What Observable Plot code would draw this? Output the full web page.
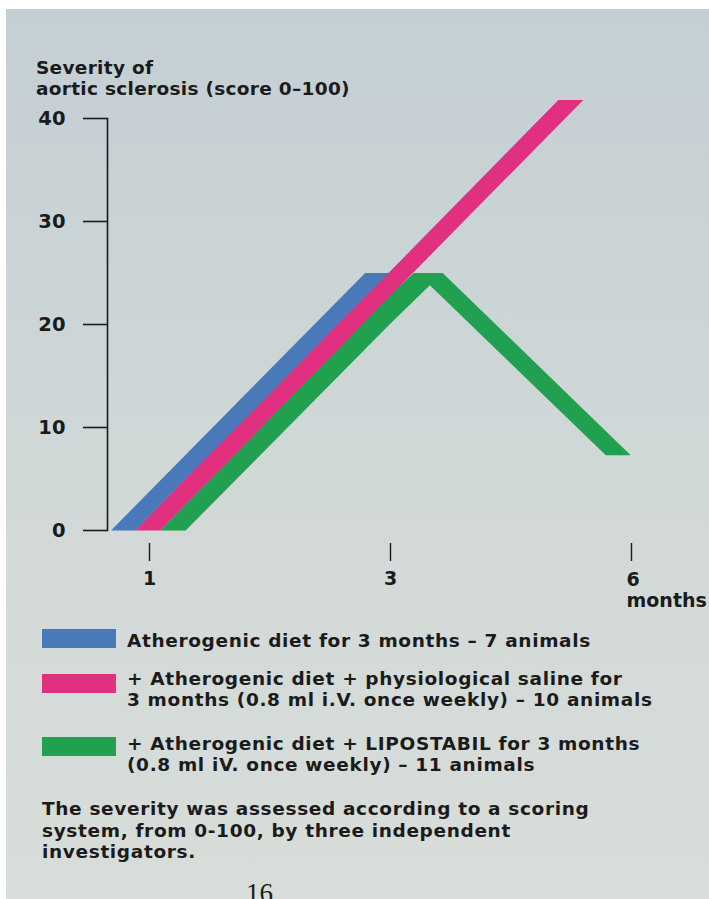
<!DOCTYPE html>
<html><head><meta charset="utf-8">
<script src="https://cdn.jsdelivr.net/npm/d3@7"></script>
<script src="https://cdn.jsdelivr.net/npm/@observablehq/plot@0.6"></script>
<style>
body{margin:0;background:#fff;width:709px;height:899px;overflow:hidden;position:relative;font-family:"DejaVu Sans",sans-serif;color:#1b1b1b;}
#panel{position:absolute;left:6px;top:9px;right:0;bottom:0;background:linear-gradient(#c4cfd4,#d2d9d8 60%,#d8ddd9);}
.t{position:absolute;font-weight:700;white-space:pre;font-size:18.5px;line-height:21px;letter-spacing:0.65px;}
#title{left:36px;top:57px;letter-spacing:0.3px;}
#chart{position:absolute;left:0;top:100px;}
.sw{position:absolute;left:42px;width:74px;height:19px;}
.lg{left:127px;line-height:20.5px;}
#caption{left:42px;top:798px;line-height:21.5px;}
#page{position:absolute;left:246px;top:878px;font-family:"Liberation Serif",serif;font-size:27px;}
</style></head>
<body>
<div id="panel"></div>
<div class="t" id="title">Severity of
aortic sclerosis (score 0–100)</div>
<div id="chart"></div>
<div id="legend"></div>
<div class="t" id="caption">The severity was assessed according to a scoring
system, from 0-100, by three independent
investigators.</div>
<div id="page">16</div>
<script>
// ---- data (months, score 0–100) ----
const seriesLabels = [
  "Atherogenic diet for 3 months – 7 animals",
  "+ Atherogenic diet + physiological saline for\n3 months (0.8 ml i.V. once weekly) – 10 animals",
  "+ Atherogenic diet + LIPOSTABIL for 3 months\n(0.8 ml iV. once weekly) – 11 animals"
];
const seriesColors = ["#4a79b9", "#e0307f", "#21a04f"];
const xTicks = [1, 3, 6];          // months (axis is drawn with equal spacing between these)
const yTicks = [0, 10, 20, 30, 40];

// band outlines: upper/left edge and lower/right edge, [months], [score]
const blueUpperMonths = [0.68, 2.79];
const blueUpperScores = [0, 25];
const blueLowerMonths = [0.88, 3.0];
const blueLowerScores = [0, 25];

const pinkUpperMonths = [0.88, 3.0, 5.09];
const pinkUpperScores = [0, 25.2, 41.8];
const pinkLowerMonths = [1.09, 3.0, 5.40];
const pinkLowerScores = [0, 22.8, 41.8];

const greenUpperMonths = [1.09, 3.0, 3.29, 3.65, 5.99];
const greenUpperScores = [0, 22.9, 25, 25, 7.3];
const greenLowerMonths = [1.30, 3.0, 3.49, 5.68];
const greenLowerScores = [0, 20.1, 23.8, 7.3];

// the month axis is schematic: 1, 3 and 6 months are equally spaced
const monthPos = d3.scaleLinear().domain(xTicks).range(xTicks.map((_, i) => i));

function polygon(um, us, lm, ls) {
  const upper = um.map((m, i) => ({m, s: us[i]}));
  const lower = lm.map((m, i) => ({m, s: ls[i]})).reverse();
  return upper.concat(lower);
}
const bands = [
  polygon(blueUpperMonths, blueUpperScores, blueLowerMonths, blueLowerScores),
  polygon(pinkUpperMonths, pinkUpperScores, pinkLowerMonths, pinkLowerScores),
  polygon(greenUpperMonths, greenUpperScores, greenLowerMonths, greenLowerScores)
];
const drawOrder = [0, 2, 1];

const W = 709, ML = 107, MR = 78, H = 510, MT = 18, MB = 80;
const FONT = "'DejaVu Sans',sans-serif";
const chart = Plot.plot({
  width: W, height: H,
  marginLeft: ML, marginRight: MR, marginTop: MT, marginBottom: MB,
  insetLeft: 42,
  style: {background: "transparent", overflow: "visible", fontFamily: FONT, color: "#1b1b1b"},
  x: {domain: [0, xTicks.length - 1], label: null},
  y: {domain: [0, 40], label: null},
  marks: [
    ...drawOrder.map(i => Plot.line(bands[i], {x: d => monthPos(d.m), y: "s", fill: seriesColors[i], stroke: "none", curve: "linear"})),
    Plot.frame({anchor: "left", strokeWidth: 1.6}),
    Plot.axisY({ticks: yTicks, tickSize: 24, tickPadding: 18, fontSize: 19.5, fontWeight: "bold", strokeWidth: 1.6, label: null}),
    Plot.axisX({ticks: xTicks.map(monthPos), tickSize: 18, dy: 13, tickPadding: 10, fontSize: 19, fontWeight: "bold", strokeWidth: 1.4, label: null,
      tickFormat: p => { const m = Math.round(monthPos.invert(p)); return m === 6 ? "" : String(m); }}),
    Plot.text([6], {x: d => monthPos(d), text: d => `${d}\nmonths`, frameAnchor: "bottom", textAnchor: "start", lineAnchor: "top",
      dx: -5, dy: 41, lineHeight: 1.1, fontSize: 19, fontWeight: "bold"})
  ]
});
document.getElementById("chart").appendChild(chart);

const legend = document.getElementById("legend");
const swatchTops = [629, 674, 737];
const textTops = [631, 669, 734];
seriesLabels.forEach((lab, i) => {
  const sw = document.createElement("div");
  sw.className = "sw";
  sw.style.top = swatchTops[i] + "px";
  sw.style.background = seriesColors[i];
  legend.appendChild(sw);
  const tx = document.createElement("div");
  tx.className = "t lg";
  tx.style.top = textTops[i] + "px";
  tx.textContent = lab;
  legend.appendChild(tx);
});
</script>
</body></html>
